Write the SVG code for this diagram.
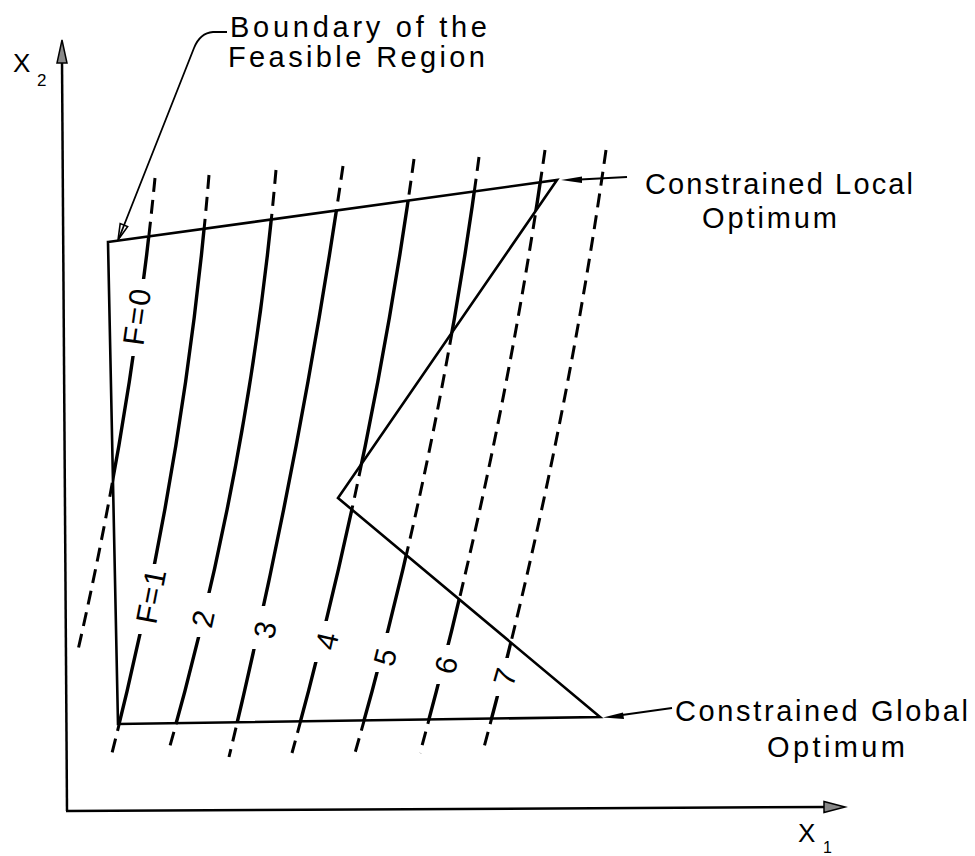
<svg xmlns="http://www.w3.org/2000/svg" xmlns:xlink="http://www.w3.org/1999/xlink" width="975" height="856" viewBox="0 0 975 856">
<style>
.ax{stroke:#000;stroke-width:2.5;fill:none}
.edge{stroke:#000;stroke-width:2.6;fill:none;stroke-linejoin:miter}
.sol{stroke:#000;stroke-width:3.4;fill:none;stroke-linecap:round}
.dash{stroke:#000;stroke-width:3;fill:none;stroke-dasharray:14 8}
.ld{stroke:#000;stroke-width:1.8;fill:none}
.t{font-family:"Liberation Sans",Arial,sans-serif;font-size:29px;fill:#000}
.lab{font-family:"Liberation Sans",Arial,sans-serif;font-size:30px;fill:#000;text-anchor:middle;dominant-baseline:central}
.ah{fill:#888;stroke:#000;stroke-width:1.5}
</style>
<defs>
<path id="c0" d="M155,178 Q131.9,414 78,650"/>
<path id="c1" d="M209,175 Q185.1,464 112,753"/>
<path id="c2" d="M276,170 Q250.8,461.5 168,753"/>
<path id="c3" d="M343,166 Q300.2,461.5 229,757"/>
<path id="c4" d="M414,159 Q373.4,456 292,753"/>
<path id="c5" d="M479,157 Q439.8,455 355,753"/>
<path id="c6" d="M545,150 Q502,451.5 420,753"/>
<path id="c7" d="M606,150 Q563.7,450.5 483,751"/>
<mask id="outside" maskUnits="userSpaceOnUse" x="0" y="0" width="975" height="856">
<rect x="0" y="0" width="975" height="856" fill="#fff"/>
<polygon points="108,242 557,180 338,498 600,717 118,724" fill="#000"/>
</mask>
<mask id="inside" maskUnits="userSpaceOnUse" x="0" y="0" width="975" height="856">
<polygon points="108,242 557,180 338,498 600,717 118,724" fill="#fff"/>
<rect x="118" y="279" width="40" height="77" fill="#000"/>
<rect x="128" y="564" width="47" height="70" fill="#000"/>
<rect x="188" y="593" width="37" height="44" fill="#000"/>
<rect x="250" y="606" width="35" height="43" fill="#000"/>
<rect x="308" y="621" width="37" height="41" fill="#000"/>
<rect x="370" y="633" width="35" height="39" fill="#000"/>
<rect x="430" y="645" width="38" height="39" fill="#000"/>
<rect x="488" y="658" width="37" height="38" fill="#000"/>
</mask>
</defs>

<g id="axes">
<line class="ax" x1="62" y1="60" x2="67" y2="811"/>
<line class="ax" x1="66" y1="811" x2="828" y2="807"/>
<polygon class="ah" points="62,40 67,63 57,63"/>
<polygon class="ah" points="845,807 824,801.5 824,812.5"/>
<text class="t" x="13" y="72" style="font-size:26px">X</text>
<text class="t" x="37" y="86" style="font-size:17px">2</text>
<text class="t" x="798" y="842" style="font-size:26px">X</text>
<text class="t" x="823" y="853" style="font-size:16px">1</text>
</g>

<g id="contours-dashed" mask="url(#outside)">
<use xlink:href="#c0" class="dash"/>
<use xlink:href="#c1" class="dash"/>
<use xlink:href="#c2" class="dash"/>
<use xlink:href="#c3" class="dash"/>
<use xlink:href="#c4" class="dash"/>
<use xlink:href="#c5" class="dash"/>
<use xlink:href="#c6" class="dash"/>
<use xlink:href="#c7" class="dash"/>
</g>
<g id="contours-solid" mask="url(#inside)">
<use xlink:href="#c0" class="sol"/>
<use xlink:href="#c1" class="sol"/>
<use xlink:href="#c2" class="sol"/>
<use xlink:href="#c3" class="sol"/>
<use xlink:href="#c4" class="sol"/>
<use xlink:href="#c5" class="sol"/>
<use xlink:href="#c6" class="sol"/>
<use xlink:href="#c7" class="sol"/>
</g>

<g id="feasible-region">
<polygon class="edge" points="108,242 557,180 338,498 600,717 118,724"/>
</g>

<g id="contour-labels">
<text class="lab" transform="translate(137,316) rotate(-82)" letter-spacing="2">F=0</text>
<text class="lab" transform="translate(151,596) rotate(-79)" letter-spacing="1">F=1</text>
<text class="lab" transform="translate(203,619) rotate(-78)">2</text>
<text class="lab" transform="translate(265,630) rotate(-78)">3</text>
<text class="lab" transform="translate(327,641) rotate(-77)">4</text>
<text class="lab" transform="translate(385,657) rotate(-76)">5</text>
<text class="lab" transform="translate(446,665) rotate(-76)">6</text>
<text class="lab" transform="translate(505,677) rotate(-74)">7</text>
</g>

<g id="label-boundary">
<text class="t" x="230" y="37" textLength="257" lengthAdjust="spacing">Boundary of the</text>
<text class="t" x="228" y="67" textLength="257" lengthAdjust="spacing">Feasible Region</text>
</g>
<g id="label-local">
<text class="t" x="645" y="194" textLength="268" lengthAdjust="spacing">Constrained Local</text>
<text class="t" x="702" y="228" textLength="135" lengthAdjust="spacing">Optimum</text>
</g>
<g id="label-global">
<text class="t" x="675" y="721" textLength="293" lengthAdjust="spacing">Constrained Global</text>
<text class="t" x="767" y="757" textLength="138" lengthAdjust="spacing">Optimum</text>
</g>

<g id="connectors">
<path class="ld" d="M227,32 L213,32 Q200,33 194,48 L119,238"/>
<polygon points="118,240 120.2,223.6 127.6,226.6" fill="none" stroke="#000" stroke-width="1.6"/>
<line class="ld" x1="627" y1="177" x2="580" y2="179.5"/>
<polygon points="561,180 582,176.5 582,183" fill="#000"/>
<line class="ld" x1="672" y1="708" x2="622" y2="715"/>
<polygon points="603,717.5 623,712.5 624,719" fill="#000"/>
</g>
</svg>
